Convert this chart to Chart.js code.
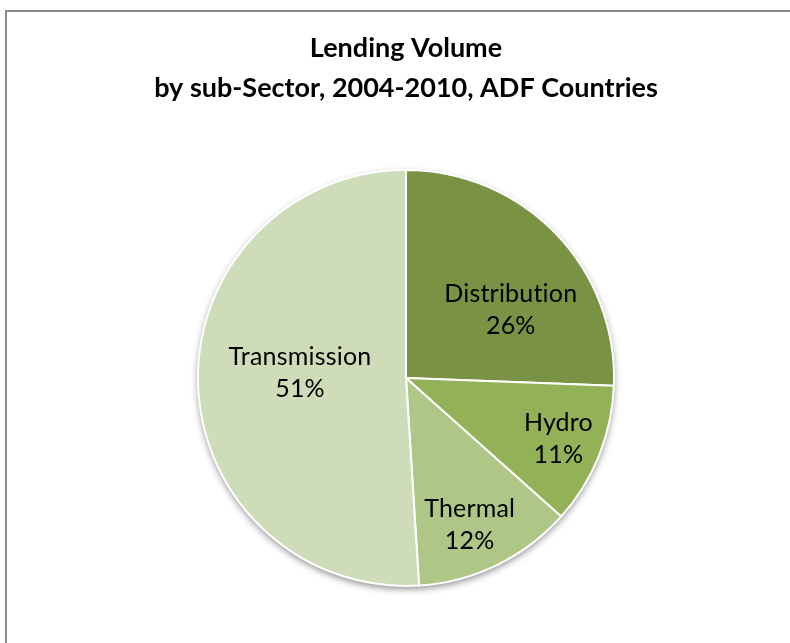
<!DOCTYPE html>
<html lang="en">
<head>
    <meta charset="UTF-8">
    <title>Lending Volume by sub-Sector</title>
    <script src="https://cdn.jsdelivr.net/npm/chart.js"></script>
    <style>
        body { margin: 0; background: #fff; }
        #wrap { position: relative; width: 790px; height: 643px; overflow: hidden; }
        #frame { position: absolute; left: 5px; top: 10px; width: 900px; height: 800px;
                 border-left: 2px solid #8c8c8c; border-top: 2px solid #8c8c8c; }
        #myChart { position: absolute; left: 0; top: 0; }
    </style>
</head>
<body>
    <div id="wrap">
        <div id="frame"></div>
        <canvas id="myChart" width="790" height="643"></canvas>
    </div>
    <script>
        // sub-sector shares (%), clockwise from 12 o'clock
        const sectors = ['Distribution', 'Hydro', 'Thermal', 'Transmission'];
        const shares = [25.6, 11.0, 12.4, 51.0];
        const colors = ['#799243', '#93b257', '#aec686', '#cfdcb9'];

        // where each label sits inside its slice: fraction of radius, angle nudge (deg)
        const labelRadius = [0.6, 0.79, 0.77, 0.51];
        const labelNudge = [11, 0, 2.5, 4.5];

        // soft shadow under the pie, like the excel original
        const pieShadow = {
            id: 'pieShadow',
            beforeDatasetsDraw(chart) {
                const arc = chart.getDatasetMeta(0).data[0];
                if (!arc) return;
                const ctx = chart.ctx;
                ctx.save();
                ctx.shadowColor = 'rgba(0,0,0,0.45)';
                ctx.shadowBlur = 7;
                ctx.shadowOffsetY = 3;
                ctx.beginPath();
                ctx.arc(arc.x, arc.y, arc.outerRadius, 0, Math.PI * 2);
                ctx.fillStyle = '#ffffff';
                ctx.fill();
                ctx.restore();
            }
        };

        // category name + percent written inside each slice
        const sliceLabels = {
            id: 'sliceLabels',
            afterDatasetsDraw(chart) {
                const ctx = chart.ctx;
                const data = chart.data.datasets[0].data;
                const total = data.reduce((a, b) => a + b, 0);
                ctx.save();
                ctx.font = '25px Lato, "Open Sans", sans-serif';
                ctx.letterSpacing = '0.2px'; // also stops the "ti" ligature
                ctx.fillStyle = '#000';
                ctx.textAlign = 'center';
                ctx.textBaseline = 'middle';
                chart.getDatasetMeta(0).data.forEach((arc, i) => {
                    const mid = (arc.startAngle + arc.endAngle) / 2 + labelNudge[i] * Math.PI / 180;
                    const r = arc.outerRadius * labelRadius[i];
                    const x = arc.x + Math.cos(mid) * r;
                    const y = arc.y + Math.sin(mid) * r;
                    const pct = Math.round(data[i] / total * 100) + '%';
                    ctx.fillText(chart.data.labels[i], x, y - 16);
                    ctx.fillText(pct, x, y + 16);
                });
                ctx.restore();
            }
        };

        const data = {
            labels: sectors,
            datasets: [{
                data: shares,
                backgroundColor: colors,
                borderColor: '#ffffff',
                borderWidth: 2,
                hoverOffset: 0
            }]
        };

        const config = {
            type: 'pie',
            data: data,
            options: {
                responsive: false,
                animation: false,
                layout: {
                    padding: { top: 0, bottom: 56, left: 32, right: 10 }
                },
                plugins: {
                    legend: { display: false },
                    tooltip: { enabled: false },
                    title: {
                        display: true,
                        text: ['Lending Volume', 'by sub-Sector, 2004-2010, ADF Countries'],
                        color: '#000',
                        font: { family: 'Lato, "Open Sans", sans-serif', size: 27, weight: 'bold', lineHeight: 1.48 },
                        padding: { top: 28, bottom: 61 }
                    }
                }
            },
            plugins: [pieShadow, sliceLabels]
        };

        const ctx = document.getElementById('myChart').getContext('2d');
        const myChart = new Chart(ctx, config);
    </script>
</body>
</html>
